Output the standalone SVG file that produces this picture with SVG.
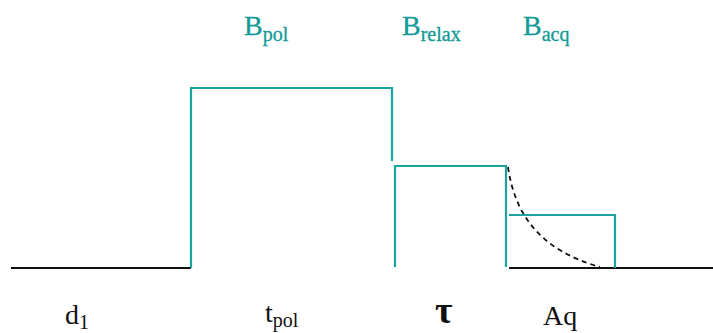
<svg xmlns="http://www.w3.org/2000/svg" width="713" height="333" viewBox="0 0 713 333">
<style>
.base{fill:none;stroke:#111;stroke-width:2.2}
.pulse{fill:none;stroke:#1aa39f;stroke-width:2.2}
.decay{fill:none;stroke:#111;stroke-width:1.8;stroke-dasharray:5,4}
text{font-family:'Liberation Serif','Times New Roman',serif}
.tl{fill:#139a96;font-size:28px;stroke:#139a96;stroke-width:0.3}
.bl{fill:#111;font-size:28px}
.sub{font-size:20px}
.tau{font-size:38px;font-weight:bold}
</style>
<rect width="713" height="333" fill="#fff"/>
<g id="connectors">
<path class="base" d="M11,268 H191"/>
<path class="base" d="M509,268 H713"/>
<path class="decay" d="M508,167 C515,215 540,250 600,267"/>
</g>
<g id="pulse-pol">
<path class="pulse" d="M191,268 V88 H392 V161"/>
</g>
<g id="pulse-relax">
<path class="pulse" d="M395,267 V166 H506 V267"/>
</g>
<g id="pulse-acq">
<path class="pulse" d="M509,215 H615 V268"/>
</g>
<g id="labels-top">
<text class="tl" x="244" y="35">B<tspan class="sub" dy="6">pol</tspan></text>
<text class="tl" x="402" y="35">B<tspan class="sub" dy="6">relax</tspan></text>
<text class="tl" x="523" y="35">B<tspan class="sub" dy="6">acq</tspan></text>
</g>
<g id="labels-bottom">
<text class="bl" x="65" y="324">d<tspan class="sub" dy="5">1</tspan></text>
<text class="bl" x="265" y="322">t<tspan class="sub" dy="5">pol</tspan></text>
<text class="bl tau" x="435" y="323">τ</text>
<text class="bl" x="543" y="325">Aq</text>
</g>
</svg>
